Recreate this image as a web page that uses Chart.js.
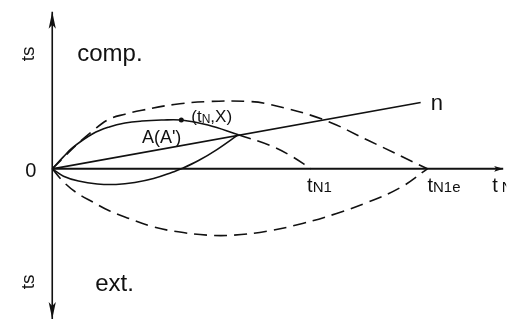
<!DOCTYPE html>
<html>
<head>
<meta charset="utf-8">
<script src="https://cdn.jsdelivr.net/npm/chart.js@4"></script>
<style>
  html, body { margin: 0; padding: 0; background: #fff; }
  #wrap { width: 522px; height: 325px; position: relative; }
</style>
</head>
<body>
<div id="wrap"><canvas id="c"></canvas></div>
<script>
// Characteristic time marks on the t axis
const tN1 = 6.9;
const tN1e = 10;

// Envelope on the compression side (dashed)
const envCompT = [0, 0.29, 0.63, 1.08, 1.52, 1.94, 2.39, 3.25, 4.15, 5.28, 5.80, 7.19, 8.43, 10];
const envCompS = [0, 1.1, 2.4, 3.9, 5.1, 5.6, 6.0, 6.6, 6.9, 6.9, 6.6, 5.1, 2.9, 0];

// Envelope on the extension side (dashed)
const envExtT = [0, 0.29, 0.63, 1.08, 1.52, 2.05, 2.65, 3.25, 4.15, 4.83, 5.72, 6.67, 7.56, 8.43, 9.29, 10];
const envExtS = [0, -1.3, -2.4, -3.4, -4.3, -5.1, -5.9, -6.4, -6.8, -6.8, -6.4, -5.6, -4.6, -3.4, -1.9, 0];

// Upper solid path through (tN, X) up to A
const pathT = [0, 0.29, 0.55, 1.08, 1.52, 1.94, 2.39, 2.91, 3.44, 4.15, 4.96];
const pathS = [0, 1.2, 2.2, 3.6, 4.3, 4.7, 4.9, 5.0, 5.0, 4.5, 3.5];

// Dashed continuation from A down to tN1
const contT = [4.96, 5.80, 6.33, tN1];
const contS = [3.5, 2.4, 1.4, 0];

// Lower solid path from the origin up to A
const lowT = [0, 0.3, 0.7, 1.2, 1.7, 2.2, 2.7, 3.2, 3.44, 3.9, 4.4, 4.96];
const lowS = [0, -0.75, -1.25, -1.55, -1.6, -1.4, -1.0, -0.35, 0, 0.85, 2.0, 3.5];

// Straight line n
const nT = [0, 9.82];
const nS = [0, 6.8];

// Marked point (tN, X)
const markT = [3.44];
const markS = [5.0];

// Axis extents
const axisV = { t: [0, 0], s: [16.1, -15.4] };
const axisH = { t: [0, 12.02], s: [0, 0] };

const pts = (ts, ss) => ts.map((t, i) => ({ x: t, y: ss[i] }));
const DASH = [13, 7];
const INK = '#111';

function line(data, dash, width, tension) {
  return {
    data: data,
    showLine: true,
    borderColor: INK,
    borderWidth: width || 1.6,
    borderDash: dash || [],
    pointRadius: 0,
    fill: false,
    tension: tension === undefined ? 0.4 : tension
  };
}

const datasets = [
  line(pts(axisV.t, axisV.s), [], 1.6, 0),
  line(pts(axisH.t, axisH.s), [], 2, 0),
  line(pts(envCompT, envCompS), DASH),
  line(pts(envExtT, envExtS), DASH),
  line(pts(pathT, pathS)),
  line(pts(contT, contS), DASH),
  line(pts(lowT, lowS)),
  line(pts(nT, nS), [], 1.6, 0),
  {
    data: pts(markT, markS),
    showLine: false,
    pointRadius: 2.5,
    pointBackgroundColor: INK,
    pointBorderWidth: 0
  }
];

const FONT = '"Liberation Sans", Arial, Helvetica, sans-serif';

// Arrowheads and text labels, placed through the chart scales
const annotate = {
  id: 'annotate',
  afterDatasetsDraw(chart) {
    const ctx = chart.ctx;
    const xs = chart.scales.x, ys = chart.scales.y;
    const P = (t, s) => [xs.getPixelForValue(t), ys.getPixelForValue(s)];
    ctx.save();
    ctx.fillStyle = INK;

    function arrow(tip, dir) {
      const [x, y] = tip;
      const L = 17, W = 3.6;
      ctx.beginPath();
      if (dir === 'up') {
        ctx.moveTo(x, y); ctx.lineTo(x - W, y + L); ctx.lineTo(x, y + L - 4); ctx.lineTo(x + W, y + L);
      } else if (dir === 'down') {
        ctx.moveTo(x, y); ctx.lineTo(x - W, y - L); ctx.lineTo(x, y - L + 4); ctx.lineTo(x + W, y - L);
      } else {
        const l = 9, w = 2.8;
        ctx.moveTo(x, y); ctx.lineTo(x - l, y - w); ctx.lineTo(x - l + 2, y); ctx.lineTo(x - l, y + w);
      }
      ctx.closePath();
      ctx.fill();
    }
    arrow(P(axisV.t[0], axisV.s[0]), 'up');
    arrow(P(axisV.t[1], axisV.s[1]), 'down');
    arrow(P(axisH.t[1], axisH.s[1]), 'right');

    function text(str, x, y, size, align) {
      ctx.font = size + 'px ' + FONT;
      ctx.textAlign = align || 'left';
      ctx.textBaseline = 'alphabetic';
      ctx.fillText(str, x, y);
      return ctx.measureText(str).width;
    }
    // t with subscript
    function tSub(x, y, sub, gap) {
      const w = text('t', x, y, 20);
      text(sub, x + w + (gap || 0), y, 15);
    }

    const o = P(0, 0);
    // origin
    text('0', o[0] - 21.5, o[1] + 8, 20, 'center');

    // rotated ts labels
    function rotTs(cx, cy) {
      ctx.save();
      ctx.translate(cx, cy);
      ctx.rotate(-Math.PI / 2);
      ctx.font = '19px ' + FONT;
      ctx.textAlign = 'center';
      ctx.textBaseline = 'middle';
      ctx.fillText('ts', 0, 1);
      ctx.restore();
    }
    rotTs(o[0] - 24, o[1] - 115);
    rotTs(o[0] - 24, o[1] + 113);

    // region names
    text('comp.', o[0] + 25, o[1] - 108, 24);
    text('ext.', o[0] + 43, o[1] + 122, 24);

    // time marks
    const a1 = P(tN1, 0), a2 = P(tN1e, 0);
    tSub(a1[0] - 4, a1[1] + 23, 'N1');
    tSub(a2[0], a2[1] + 23, 'N1e');

    // axis name, cut at the frame edge
    const end = P(axisH.t[1], 0);
    ctx.save();
    ctx.beginPath();
    ctx.rect(0, 0, end[0] + 3, chart.height);
    ctx.clip();
    tSub(end[0] - 11, end[1] + 23, 'N', 4);
    ctx.restore();

    // line n
    const ne = P(nT[1], nS[1]);
    text('n', ne[0] + 10, ne[1] + 7, 22);

    // A(A')
    const pa = P(2.39, 2.7);
    text("A(A')", pa[0], pa[1], 18);

    // (tN, X)
    const m = P(markT[0], markS[0]);
    let x = m[0] + 10, y = m[1] + 2;
    x += text('(t', x, y, 17);
    x += text('N', x, y + 1, 12);
    text(',X)', x, y, 17);

    ctx.restore();
  }
};

new Chart(document.getElementById('c'), {
  type: 'scatter',
  data: { datasets: datasets },
  options: {
    responsive: true,
    maintainAspectRatio: false,
    animation: false,
    devicePixelRatio: 1,
    layout: { padding: 0 },
    plugins: { legend: { display: false }, tooltip: { enabled: false } },
    scales: {
      x: { type: 'linear', display: false, min: -49 / 38.1, max: (522 - 49) / 38.1 },
      y: { type: 'linear', display: false, min: -15.6, max: 16.9 }
    }
  },
  plugins: [annotate]
});
</script>
</body>
</html>
